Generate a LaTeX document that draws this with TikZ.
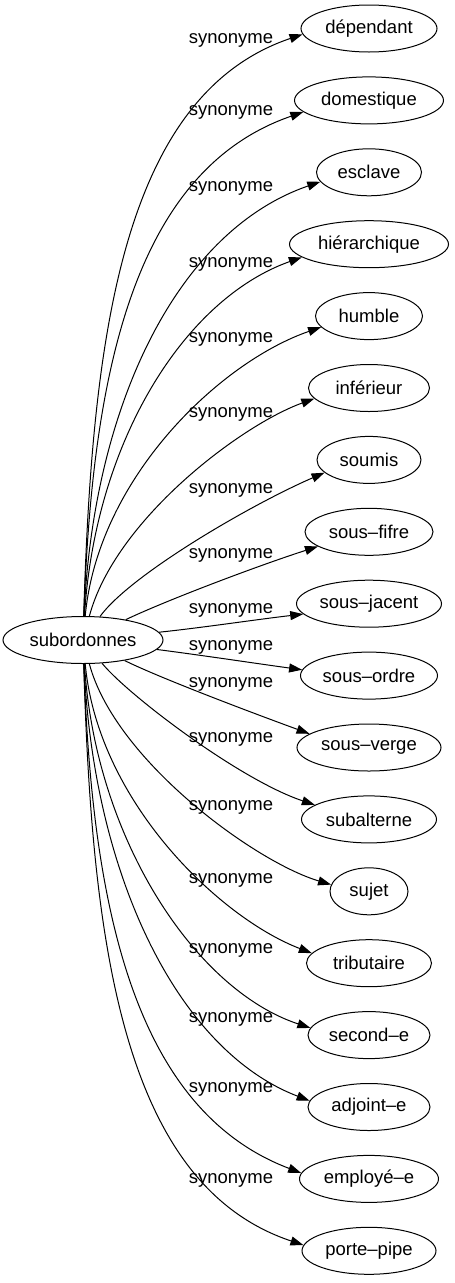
\documentclass[tikz,border=0pt]{standalone}
\usepackage{fontspec}
\setmainfont{Liberation Sans}
\usetikzlibrary{arrows.meta,shapes.geometric}
\begin{document}
\begin{tikzpicture}[x=1pt,y=-1pt,
  every node/.style={font=\fontsize{18.5}{22}\selectfont},
  term/.style={draw, ellipse, line width=1pt, minimum height=47pt, inner sep=0pt},
  lbl/.style={anchor=base, inner sep=0pt},
  syn/.style={draw, line width=1pt, -{Triangle[length=13pt,width=9pt]}}]
\useasboundingbox (0,0) rectangle (455,1283);
\node[term, minimum width=160pt] (s) at (83,640) {subordonnes};
\node[term, minimum width=136pt] (t0) at (369,28.5) {dépendant};
\node[term, minimum width=149pt] (t1) at (369,100.4) {domestique};
\node[term, minimum width=105pt] (t2) at (369,172.3) {esclave};
\node[term, minimum width=159pt] (t3) at (369,244.2) {hiérarchique};
\node[term, minimum width=107pt] (t4) at (369,316.1) {humble};
\node[term, minimum width=121pt] (t5) at (369,388) {inférieur};
\node[term, minimum width=104pt] (t6) at (369,459.9) {soumis};
\node[term, minimum width=128pt] (t7) at (369,531.8) {sous–fifre};
\node[term, minimum width=145pt] (t8) at (369,603.7) {sous–jacent};
\node[term, minimum width=137pt] (t9) at (369,675.6) {sous–ordre};
\node[term, minimum width=144pt] (t10) at (369,747.5) {sous–verge};
\node[term, minimum width=135pt] (t11) at (369,819.4) {subalterne};
\node[term, minimum width=78pt] (t12) at (369,891.3) {sujet};
\node[term, minimum width=125pt] (t13) at (369,963.2) {tributaire};
\node[term, minimum width=122pt] (t14) at (369,1035.1) {second–e};
\node[term, minimum width=122pt] (t15) at (369,1107) {adjoint–e};
\node[term, minimum width=139pt] (t16) at (369,1178.9) {employé–e};
\node[term, minimum width=134pt] (t17) at (369,1250.8) {porte–pipe};
% labels
\node[lbl] (l0) at (231,43) {synonyme};
\node[lbl] (l1) at (231,115) {synonyme};
\node[lbl] (l2) at (231,191) {synonyme};
\node[lbl] (l3) at (231,267) {synonyme};
\node[lbl] (l4) at (231,342) {synonyme};
\node[lbl] (l5) at (231,417) {synonyme};
\node[lbl] (l6) at (231,493) {synonyme};
\node[lbl] (l7) at (231,558) {synonyme};
\node[lbl] (l8) at (231,613) {synonyme};
\node[lbl] (l9) at (231,650) {synonyme};
\node[lbl] (l10) at (231,687) {synonyme};
\node[lbl] (l11) at (231,742) {synonyme};
\node[lbl] (l12) at (231,810) {synonyme};
\node[lbl] (l13) at (231,883) {synonyme};
\node[lbl] (l14) at (231,953) {synonyme};
\node[lbl] (l15) at (231,1022) {synonyme};
\node[lbl] (l16) at (231,1092) {synonyme};
\node[lbl] (l17) at (231,1183) {synonyme};
% edges
\draw[syn] (s) .. controls (92,334) and (123,95) .. (t0.185);
\draw[syn] (s) .. controls (92,370) and (135,170) .. (t1.190);
\draw[syn] (s) .. controls (93,406) and (177,231) .. (t2.191);
\draw[syn] (s) .. controls (95,442) and (184,299) .. (t3.191);
\draw[syn] (s) .. controls (98,478) and (220,362) .. (t4.193);
\draw[syn] (s) .. controls (115,520) and (241,425) .. (t5.191);
\draw[syn] (s) .. controls (130,575) and (250,505) .. (t6.196);
\draw[syn] (s) .. controls (167,600) and (260,565) .. (t7.196);
\draw[syn] (s) .. controls (200,628) and (260,619) .. (t8.189);
\draw[syn] (s) .. controls (200,655) and (260,664) .. (t9.175);
\draw[syn] (s) .. controls (160,678) and (250,712) .. (t10.167);
\draw[syn] (s) .. controls (128,695) and (240,780) .. (t11.165);
\draw[syn] (s) .. controls (115,760) and (255,862) .. (t12.170);
\draw[syn] (s) .. controls (98,802) and (220,918) .. (t13.170);
\draw[syn] (s) .. controls (95,838) and (195,990) .. (t14.173);
\draw[syn] (s) .. controls (93,874) and (177,1050) .. (t15.174);
\draw[syn] (s) .. controls (92,910) and (135,1110) .. (t16.175);
\draw[syn] (s) .. controls (92,946) and (123,1185) .. (t17.175);
\end{tikzpicture}
\end{document}
